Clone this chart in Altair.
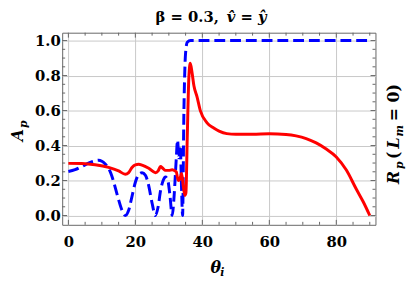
import altair as alt
import pandas as pd

# ---- data ----
red_x = [0, 4, 8, 12, 15, 17, 18, 19, 20, 21, 22, 24, 26, 26.8, 27.5, 28.2, 29, 30, 31, 32.2,
         32.8, 33.3, 33.8, 34.3, 34.8, 35.1, 35.5, 36.0, 36.4, 36.9, 37.5, 38.4, 39.4, 41.4,
         43.4, 45, 47.3, 50, 55, 60, 65, 68, 71, 74, 77, 80, 83, 86, 88, 90]
red_y = [0.298, 0.297, 0.29, 0.275, 0.255, 0.236, 0.245, 0.275, 0.29, 0.293, 0.288, 0.27, 0.245,
         0.255, 0.28, 0.27, 0.258, 0.258, 0.262, 0.25, 0.2, 0.21, 0.24, 0.17, 0.115, 0.13, 0.45,
         0.8, 0.87, 0.82, 0.74, 0.68, 0.60, 0.53, 0.50, 0.482, 0.468, 0.465, 0.465, 0.467,
         0.463, 0.455, 0.44, 0.415, 0.38, 0.335, 0.26, 0.15, 0.08, 0.0]

blue_x = [0, 2, 4, 6, 8, 9, 10, 11, 12, 13, 14, 15, 16, 17, 18, 19, 20, 21, 22, 23, 24, 25, 26,
          26.8, 27.5, 28.3, 29, 29.7, 30.3, 31, 31.6, 32.2, 32.6, 33.0, 33.4, 33.8, 34.1, 34.5,
          35.0, 35.5, 36.5, 50, 70, 90]
blue_y = [0.252, 0.262, 0.28, 0.30, 0.313, 0.316, 0.31, 0.295, 0.27, 0.225, 0.16, 0.09, 0.03,
          0.0, 0.03, 0.11, 0.19, 0.235, 0.245, 0.23, 0.17, 0.07, 0.0, 0.05, 0.14, 0.2, 0.22,
          0.2, 0.12, 0.0, 0.12, 0.32, 0.43, 0.33, 0.40, 0.15, 0.0, 0.6, 0.93, 0.99, 1.0, 1.0,
          1.0, 1.0]

x_major = [0, 20, 40, 60, 80]
y_major = [0.0, 0.2, 0.4, 0.6, 0.8, 1.0]
x_minor = [5, 10, 15, 25, 30, 35, 45, 50, 55, 65, 70, 75, 85, 90]
y_minor = [0.05, 0.1, 0.15, 0.25, 0.3, 0.35, 0.45, 0.5, 0.55, 0.65, 0.7, 0.75, 0.85, 0.9, 0.95]

W, H = 318, 195
SERIF = "DejaVu Serif"
FRAME = "#666666"

xs = alt.Scale(domain=[-1.85, 91.7], nice=False, zero=False)
ys = alt.Scale(domain=[-0.053, 1.045], nice=False, zero=False)

x_axis = alt.Axis(values=x_major, title=None, ticks=False, domain=False, grid=True,
                  gridColor="#c8c8c8", gridWidth=1, labelFont=SERIF, labelFontSize=15,
                  labelFontWeight="bold", labelColor="black", labelPadding=10, labelFlush=False)
y_axis = alt.Axis(values=y_major, title=None, ticks=False, domain=False, grid=True,
                  gridColor="#c8c8c8", gridWidth=1, labelFont=SERIF, labelFontSize=15,
                  labelFontWeight="bold", labelColor="black", labelPadding=2, format=".1f",
                  labelFlush=False)

red_df = pd.DataFrame({"x": red_x, "y": red_y})
blue_df = pd.DataFrame({"x": blue_x, "y": blue_y})

blue = alt.Chart(blue_df).mark_line(color="#0000ff", strokeWidth=3, strokeDash=[11, 5],
                                    interpolate="monotone").encode(
    x=alt.X("x:Q", scale=xs, axis=x_axis), y=alt.Y("y:Q", scale=ys, axis=y_axis))
red = alt.Chart(red_df).mark_line(color="#ff0000", strokeWidth=3,
                                  interpolate="monotone").encode(
    x=alt.X("x:Q", scale=xs, axis=x_axis), y=alt.Y("y:Q", scale=ys, axis=y_axis))


def xticks(vals, y0, y1):
    return alt.Chart(pd.DataFrame({"v": vals})).mark_rule(color=FRAME, strokeWidth=1).encode(
        x=alt.X("v:Q", scale=xs, axis=x_axis), y=alt.value(y0), y2=alt.value(y1))


def yticks(vals, x0, x1):
    return alt.Chart(pd.DataFrame({"v": vals})).mark_rule(color=FRAME, strokeWidth=1).encode(
        y=alt.Y("v:Q", scale=ys, axis=y_axis), x=alt.value(x0), x2=alt.value(x1))


ticks = [
    xticks(x_major, H, H - 5), xticks(x_minor, H, H - 3),
    xticks(x_major, 0, 5), xticks(x_minor, 0, 3),
    yticks(y_major, 0, 5), yticks(y_minor, 0, 3),
    yticks(y_major, W, W - 5), yticks(y_minor, W, W - 3),
]


def txt(s, x, y, size=15, style="normal", angle=0, align="center", weight="bold"):
    return alt.Chart(pd.DataFrame({"t": [s]})).mark_text(
        font=SERIF, fontSize=size, fontWeight=weight, fontStyle=style, angle=angle,
        align=align, baseline="alphabetic", color="black").encode(
        x=alt.value(x), y=alt.value(y), text="t:N")


texts = [
    # title
    txt("β = 0.3,", 159, -11, size=15, align="right"),
    txt("v\u0302 = ŷ", 167, -11, size=15, style="italic", align="left"),
    # x title
    txt("θ", 156, 244, size=16, style="italic"),
    txt("i", 162.5, 247, size=11, style="italic"),
    # left y title
    txt("A", -40, 104, size=16, style="italic", angle=270),
    txt("p", -36, 93, size=11, style="italic", angle=270),
    # right label R_p (L_m = 0)
    txt("R", 342, 147, size=16, style="italic", angle=270),
    txt("p", 346, 134.5, size=11, style="italic", angle=270),
    txt("(", 342, 124.5, size=16, angle=270),
    txt("L", 342, 112, size=16, style="italic", angle=270),
    txt("m", 346, 99.5, size=11, style="italic", angle=270),
    txt("= 0)", 342, 71, size=16, angle=270),
]

chart = alt.layer(blue, red, *ticks, *texts).properties(
    width=W, height=H,
    autosize=alt.AutoSizeParams(type="none"),
    padding={"left": 55, "top": 23, "right": 32, "bottom": 57},
).configure_view(stroke=FRAME, strokeWidth=1)

chart.save("out.html", embed_options={"renderer": "svg", "actions": False})
